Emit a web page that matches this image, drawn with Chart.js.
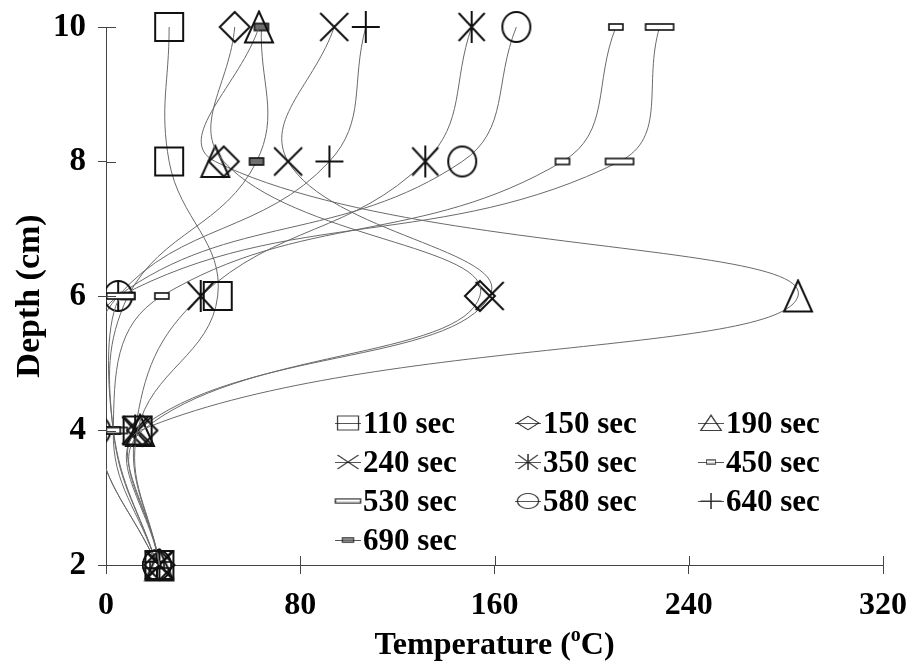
<!DOCTYPE html>
<html>
<head>
<meta charset="utf-8">
<style>
  html, body { margin: 0; padding: 0; background: #fff; }
  #wrap { width: 914px; height: 669px; }
</style>
<script src="https://cdn.jsdelivr.net/npm/chart.js@4"></script>
</head>
<body>
<div id="wrap"><canvas id="chart" width="914" height="669"></canvas></div>
<script>
// Depth positions (cm) and temperature profiles (°C) at each elapsed time
const depths = [10, 8, 6, 4, 2];
const seriesLabels = ['110 sec', '150 sec', '190 sec', '240 sec', '350 sec',
                      '450 sec', '530 sec', '580 sec', '640 sec', '690 sec'];
const t110 = [26, 26, 46, 13, 22];
const t150 = [53, 48.5, 154, 15, 22];
const t190 = [63, 45, 285, 14, 22];
const t240 = [94, 75, 158, 13, 22];
const t350 = [150.6, 131.5, 39, 12, 22];
const t450 = [210, 188, 23, 3, 21];
const t530 = [228, 211.5, 6, 3, 21];
const t580 = [169, 146.7, 5, -4, 21];
const t640 = [107, 92, 5, -4, 21];
const t690 = [64, 62, 9, 3, 21];
const tempTicks = [0, 80, 160, 240, 320];
const depthTicks = [2, 4, 6, 8, 10];

const FONT = "'Liberation Serif', 'Times New Roman', serif";

// ---- marker images -------------------------------------------------------
function marker(w, h, draw) {
  const c = document.createElement('canvas');
  c.width = w; c.height = h;
  const g = c.getContext('2d');
  g.strokeStyle = '#111';
  g.lineWidth = 2;
  draw(g, w, h);
  return c;
}
const mkSquare = marker(32, 32, (g) => { g.strokeRect(2, 2, 28, 28); });
const mkDiamond = marker(34, 34, (g) => {
  g.beginPath(); g.moveTo(17, 2); g.lineTo(32, 17); g.lineTo(17, 32); g.lineTo(2, 17);
  g.closePath(); g.stroke();
});
const mkTriangle = marker(32, 35, (g) => {
  g.beginPath(); g.moveTo(16, 2); g.lineTo(30, 33); g.lineTo(2, 33);
  g.closePath(); g.stroke();
});
const mkX = marker(32, 32, (g) => {
  g.beginPath(); g.moveTo(2, 2); g.lineTo(30, 30); g.moveTo(30, 2); g.lineTo(2, 30); g.stroke();
});
const mkAsterisk = marker(32, 34, (g) => {
  g.beginPath();
  g.moveTo(3, 3); g.lineTo(29, 31); g.moveTo(29, 3); g.lineTo(3, 31);
  g.moveTo(16, 1); g.lineTo(16, 33); g.stroke();
});
const mkSmallRect = marker(18, 10, (g) => {
  g.fillStyle = '#fff'; g.fillRect(2, 2, 14, 6); g.lineWidth = 1.6; g.strokeRect(2, 2, 14, 6);
});
const mkLongRect = marker(32, 10, (g) => {
  g.fillStyle = '#fff'; g.fillRect(2, 2, 28, 6); g.lineWidth = 1.6; g.strokeRect(2, 2, 28, 6);
});
const mkCircle = marker(32, 34, (g) => {
  g.beginPath(); g.ellipse(16, 17, 14, 15, 0, 0, Math.PI * 2); g.stroke();
});
const mkPlus = marker(32, 34, (g) => {
  g.beginPath(); g.moveTo(2, 17); g.lineTo(30, 17); g.moveTo(16, 1); g.lineTo(16, 33); g.stroke();
});
const mkDarkRect = marker(18, 11, (g) => {
  g.fillStyle = '#6e6e6e'; g.fillRect(2, 2, 14, 7); g.lineWidth = 1.6; g.strokeRect(2, 2, 14, 7);
});

const profiles = [t110, t150, t190, t240, t350, t450, t530, t580, t640, t690];
const markers = [mkSquare, mkDiamond, mkTriangle, mkX, mkAsterisk,
                 mkSmallRect, mkLongRect, mkCircle, mkPlus, mkDarkRect];
// legend sample scaling (x, y) for each symbol
const legendScale = [[0.75, 0.5], [0.72, 0.45], [0.75, 0.5], [0.75, 0.5], [0.75, 0.5],
                     [0.65, 0.7], [0.9, 0.7], [0.75, 0.5], [0.75, 0.5], [0.8, 0.7]];

const datasets = profiles.map((vals, i) => ({
  label: seriesLabels[i],
  data: vals.map((v, k) => ({ x: v, y: depths[k] })),
  showLine: true,
  borderColor: '#6a6a6a',
  borderWidth: 1,
  tension: 0.42,
  pointStyle: markers[i],
  pointRadius: 12,
  pointHoverRadius: 12,
  // marks are cut at the temperature axis, free on the other sides
  clip: { left: 0, top: false, right: false, bottom: false }
}));

// ---- inward half of the cross ticks ------------------------------------
const innerTicks = {
  id: 'innerTicks',
  afterDraw(chart) {
    const { ctx, chartArea, scales } = chart;
    ctx.save();
    ctx.strokeStyle = '#444';
    ctx.lineWidth = 1;
    ctx.beginPath();
    tempTicks.forEach(v => {
      const x = Math.round(scales.x.getPixelForValue(v)) + 0.5;
      ctx.moveTo(x, chartArea.bottom); ctx.lineTo(x, chartArea.bottom - 9);
    });
    depthTicks.forEach(v => {
      const y = Math.round(scales.y.getPixelForValue(v)) + 0.5;
      ctx.moveTo(chartArea.left, y); ctx.lineTo(chartArea.left + 10, y);
    });
    ctx.stroke();
    ctx.restore();
  }
};

// ---- legend block inside the plot ---------------------------------------
const legendBlock = {
  id: 'legendBlock',
  afterDraw(chart) {
    const { ctx } = chart;
    const colX = [348, 528, 711];
    const rowY = [423, 462, 501, 540];
    ctx.save();
    ctx.font = 'bold 31px ' + FONT;
    ctx.fillStyle = '#000';
    ctx.textBaseline = 'middle';
    ctx.textAlign = 'left';
    seriesLabels.forEach((lab, i) => {
      const cx = colX[i % 3];
      const cy = rowY[Math.floor(i / 3)];
      ctx.strokeStyle = '#555';
      ctx.lineWidth = 1;
      ctx.beginPath(); ctx.moveTo(cx - 13, cy + 0.5); ctx.lineTo(cx + 13, cy + 0.5); ctx.stroke();
      const img = markers[i];
      const w = img.width * legendScale[i][0];
      const h = img.height * legendScale[i][1];
      ctx.globalAlpha = 0.8;
      ctx.drawImage(img, cx - w / 2, cy - h / 2, w, h);
      ctx.globalAlpha = 1;
      ctx.fillText(lab, cx + 15, cy + 2);
    });
    ctx.restore();
  }
};

// ---- x axis title with superscript degree mark ---------------------------
const xTitle = {
  id: 'xTitle',
  afterDraw(chart) {
    const { ctx, chartArea } = chart;
    const cx = (chartArea.left + chartArea.right) / 2;
    const y = 646;
    ctx.save();
    ctx.fillStyle = '#000';
    ctx.textBaseline = 'middle';
    const big = 'bold 32px ' + FONT;
    const small = 'bold 20px ' + FONT;
    const parts = [['Temperature (', big, 0], ['o', small, -10], ['C)', big, 0]];
    let total = 0;
    parts.forEach(p => { ctx.font = p[1]; total += ctx.measureText(p[0]).width; });
    let x = cx - total / 2;
    parts.forEach(p => {
      ctx.font = p[1];
      ctx.fillText(p[0], x, y + p[2]);
      x += ctx.measureText(p[0]).width;
    });
    ctx.restore();
  }
};

new Chart(document.getElementById('chart'), {
  type: 'scatter',
  data: { datasets },
  options: {
    responsive: false,
    devicePixelRatio: 1,
    animation: false,
    layout: { padding: { top: 27, right: 31, left: 0, bottom: 0 } },
    plugins: { legend: { display: false }, tooltip: { enabled: false } },
    scales: {
      x: {
        type: 'linear', min: 0, max: 320,
        afterBuildTicks(s) { s.ticks = tempTicks.map(v => ({ value: v })); },
        afterFit(s) { s.height = 104; s.paddingLeft = 0; s.paddingRight = 0; },
        border: { display: true, color: '#444', width: 1 },
        grid: { drawOnChartArea: false, drawTicks: true, tickLength: 9, color: '#444' },
        ticks: { color: '#000', padding: 13, font: { family: FONT, weight: 'bold', size: 32 } }
      },
      y: {
        type: 'linear', min: 2, max: 10,
        afterBuildTicks(s) { s.ticks = depthTicks.map(v => ({ value: v })); },
        afterFit(s) { s.width = 106; s.paddingTop = 0; s.paddingBottom = 0; },
        border: { display: true, color: '#444', width: 1 },
        grid: { drawOnChartArea: false, drawTicks: true, tickLength: 8, color: '#444' },
        ticks: { color: '#000', padding: 12, font: { family: FONT, weight: 'bold', size: 33 } },
        title: { display: true, text: 'Depth (cm)', color: '#000',
                 padding: { top: 10, bottom: 0 },
                 font: { family: FONT, weight: 'bold', size: 34 } }
      }
    }
  },
  plugins: [innerTicks, legendBlock, xTitle]
});
</script>
</body>
</html>
